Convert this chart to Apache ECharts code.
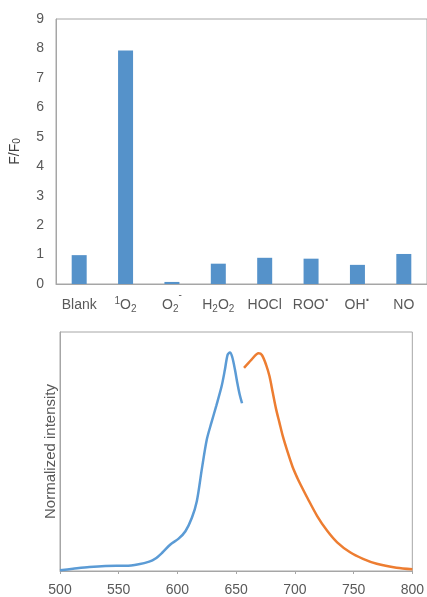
<!DOCTYPE html>
<html><head><meta charset="utf-8">
<script src="https://cdn.jsdelivr.net/npm/echarts@6/dist/echarts.min.js"></script>
<style>html,body{margin:0;padding:0;background:#fff}#c{width:427px;height:597px}</style>
</head><body><div id="c"></div>
<script>
const categories = ['Blank', '{sup|1}O{sub|2}', 'O{sub|2}{sup2|-}', 'H{sub|2}O{sub|2}', 'HOCl', 'ROO{dot|·}', 'OH{dot|·}', 'NO'];
const ratios = [0.98, 7.93, 0.07, 0.69, 0.89, 0.86, 0.65, 1.02];

const blueWl = [500, 511, 525, 548, 556, 567, 576, 581, 587, 594, 601, 606.8, 612.3, 616.5, 620.8, 625, 629, 633, 637.6, 640.4, 642.7, 644.7, 646.6, 649, 651, 653, 655];
const blueInt = [0.003, 0.01, 0.018, 0.024, 0.024, 0.031, 0.043, 0.056, 0.084, 0.122, 0.149, 0.183, 0.245, 0.321, 0.47, 0.605, 0.684, 0.759, 0.85, 0.926, 0.995, 1.006, 0.986, 0.926, 0.865, 0.812, 0.772];
const orangeWl = [656.7, 662.9, 669.1, 671.9, 675.5, 678.4, 681.2, 684, 686.8, 689.6, 693.8, 698, 702.2, 705, 710.7, 719, 727.5, 736, 747, 758, 769.7, 786.5, 800];
const orangeInt = [0.935, 0.972, 1.002, 0.994, 0.949, 0.896, 0.82, 0.745, 0.684, 0.623, 0.548, 0.48, 0.427, 0.396, 0.336, 0.253, 0.185, 0.132, 0.086, 0.056, 0.033, 0.015, 0.008];

const gray = '#595959';
const lineGray = '#a6a6a6';
const font = 'Liberation Sans, Arial, sans-serif';

const chart = echarts.init(document.getElementById('c'));
chart.setOption({
  animation: false,
  textStyle: { fontFamily: font },
  grid: [
    { left: 56, top: 19, right: 0, bottom: 313, show: true, borderColor: lineGray, borderWidth: 1 },
    { left: 60, top: 332, right: 11, bottom: 23, show: true, borderColor: lineGray, borderWidth: 1 }
  ],
  xAxis: [
    { type: 'category', gridIndex: 0, data: categories,
      axisLine: { lineStyle: { color: lineGray } }, axisTick: { show: false },
      axisLabel: { color: gray, fontSize: 14, fontFamily: font, margin: 6, interval: 0, lineHeight: 30,
        rich: {
          sub: { fontSize: 10, lineHeight: 10, color: gray, fontFamily: font, padding: [9, 0, 0, 0] },
          sup: { fontSize: 10, lineHeight: 10, color: gray, fontFamily: font, padding: [0, 0, 7, 0] },
          sup2: { fontSize: 10, lineHeight: 10, color: gray, fontFamily: font, padding: [0, 0, 20, 0] },
          dot: { fontSize: 14, lineHeight: 10, color: gray, fontFamily: font, fontWeight: 'bold', padding: [0, 0, 8, 0] }
        } } },
    { type: 'value', gridIndex: 1, min: 500, max: 800, interval: 50,
      axisLine: { lineStyle: { color: lineGray } },
      axisTick: { show: true, inside: false, length: 3, lineStyle: { color: lineGray } },
      splitLine: { show: false },
      axisLabel: { color: gray, fontSize: 14, fontFamily: font, margin: 12 } }
  ],
  yAxis: [
    { type: 'value', gridIndex: 0, min: 0, max: 9, interval: 1,
      axisLine: { show: true, lineStyle: { color: lineGray } }, axisTick: { show: false },
      splitLine: { show: false },
      axisLabel: { color: gray, fontSize: 14, fontFamily: font, margin: 12 },
      name: 'F/F{s|0}', nameLocation: 'middle', nameRotate: 90, nameGap: 34,
      nameTextStyle: { color: '#404040', fontSize: 14, fontFamily: font,
        rich: { s: { fontSize: 10, color: '#404040', verticalAlign: 'bottom' } } } },
    { type: 'value', gridIndex: 1, min: 0, max: 1.1,
      axisLine: { show: true, lineStyle: { color: lineGray } }, axisTick: { show: false },
      splitLine: { show: false }, axisLabel: { show: false },
      name: 'Normalized intensity', nameLocation: 'middle', nameRotate: 90, nameGap: 2,
      nameTextStyle: { color: gray, fontSize: 15, fontFamily: font } }
  ],
  series: [
    { type: 'bar', xAxisIndex: 0, yAxisIndex: 0, data: ratios, barWidth: 15,
      itemStyle: { color: '#5592ca' } },
    { type: 'line', xAxisIndex: 1, yAxisIndex: 1, data: blueWl.map((w, i) => [w, blueInt[i]]),
      smooth: 0.3, showSymbol: false, lineStyle: { color: '#5b9bd5', width: 2.5 } },
    { type: 'line', xAxisIndex: 1, yAxisIndex: 1, data: orangeWl.map((w, i) => [w, orangeInt[i]]),
      smooth: 0.3, showSymbol: false, lineStyle: { color: '#ed7d31', width: 2.5 } }
  ]
});
</script></body></html>
